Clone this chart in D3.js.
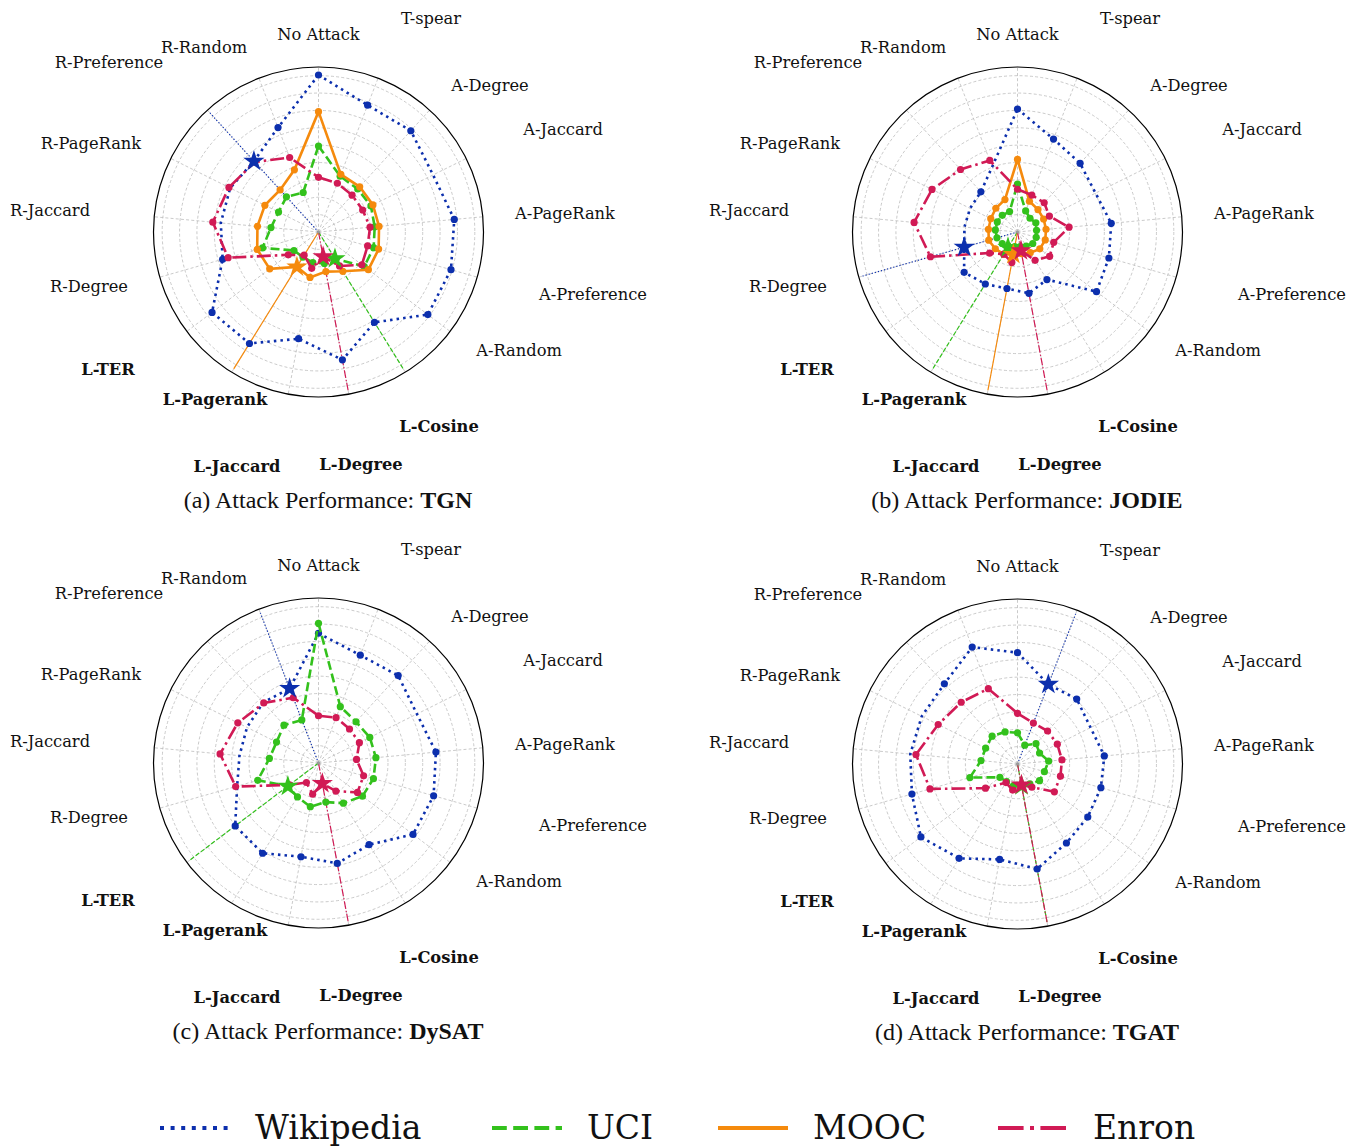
<!DOCTYPE html>
<html>
<head>
<meta charset="UTF-8" />
<title>Attack Performance radar charts</title>
<script src="https://d3js.org/d3.v7.min.js"></script>
<style>
  body { margin: 0; background: #fff; }
  text { font-family: "DejaVu Serif", serif; }
  .caption { font-family: "Liberation Serif", "Times New Roman", serif; }
</style>
</head>
<body>
<div id="chart"></div>
<script>
// spokes, clockwise from the top
var attacks = ["No Attack", "T-spear", "A-Degree", "A-Jaccard", "A-PageRank", "A-Preference", "A-Random",
  "L-Cosine", "L-Degree", "L-Jaccard", "L-Pagerank", "L-TER",
  "R-Degree", "R-Jaccard", "R-PageRank", "R-Preference", "R-Random"];
var datasets = ["Wikipedia", "UCI", "MOOC", "Enron"];
var models = ["TGN", "JODIE", "DySAT", "TGAT"];
var letters = ["(a)", "(b)", "(c)", "(d)"];

// values per attack (17), one array per dataset and model
var tgnWiki  = [0.904, 0.783, 0.789, 0.737, 0.785, 0.793, 0.789, 0.612, 0.749, 0.625, 0.755, 0.768, 0.574, 0.565, 0.568, 0.552, 0.645];
var tgnUci   = [0.495, 0.345, 0.335, 0.337, 0.325, 0.330, 0.330, 0.180, 0.184, 0.179, 0.170, 0.177, 0.335, 0.275, 0.257, 0.274, 0.244];
var tgnMooc  = [0.693, 0.356, 0.352, 0.350, 0.350, 0.360, 0.360, 0.266, 0.232, 0.266, 0.236, 0.352, 0.367, 0.353, 0.345, 0.328, 0.384];
var tgnEnron = [0.315, 0.301, 0.287, 0.284, 0.298, 0.294, 0.313, 0.230, 0.144, 0.213, 0.157, 0.218, 0.541, 0.611, 0.576, 0.545, 0.460];

var jodieWiki  = [0.708, 0.574, 0.535, 0.502, 0.542, 0.547, 0.570, 0.322, 0.359, 0.331, 0.352, 0.385, 0.319, 0.307, 0.305, 0.313, 0.403];
var jodieUci   = [0.276, 0.130, 0.107, 0.118, 0.110, 0.112, 0.110, 0.095, 0.085, 0.085, 0.104, 0.110, 0.123, 0.128, 0.130, 0.130, 0.126];
var jodieMooc  = [0.418, 0.190, 0.175, 0.168, 0.165, 0.166, 0.161, 0.140, 0.127, 0.131, 0.150, 0.160, 0.172, 0.168, 0.172, 0.185, 0.200];
var jodieEnron = [0.246, 0.228, 0.228, 0.205, 0.298, 0.217, 0.232, 0.192, 0.109, 0.178, 0.150, 0.201, 0.521, 0.598, 0.550, 0.487, 0.442];

var dysatWiki  = [0.747, 0.666, 0.681, 0.633, 0.679, 0.689, 0.682, 0.553, 0.588, 0.549, 0.611, 0.601, 0.487, 0.457, 0.460, 0.472, 0.460];
var dysatUci   = [0.804, 0.348, 0.321, 0.330, 0.332, 0.329, 0.317, 0.272, 0.229, 0.256, 0.230, 0.221, 0.364, 0.284, 0.270, 0.295, 0.266];
var dysatEnron = [0.272, 0.280, 0.265, 0.263, 0.220, 0.270, 0.281, 0.190, 0.120, 0.183, 0.132, 0.209, 0.496, 0.569, 0.519, 0.468, 0.403];

var tgatWiki  = [0.641, 0.492, 0.506, 0.470, 0.502, 0.499, 0.507, 0.535, 0.615, 0.559, 0.639, 0.697, 0.632, 0.620, 0.616, 0.625, 0.722];
var tgatUci   = [0.180, 0.116, 0.158, 0.142, 0.180, 0.161, 0.159, 0.135, 0.127, 0.130, 0.120, 0.127, 0.285, 0.211, 0.205, 0.217, 0.198];
var tgatEnron = [0.292, 0.253, 0.257, 0.256, 0.257, 0.257, 0.266, 0.157, 0.123, 0.153, 0.126, 0.231, 0.524, 0.587, 0.510, 0.481, 0.465];

// index of the starred (strongest) attack for each dataset, null = not plotted
var tgnBest   = [15, 7, 10, 8];
var jodieBest = [12, 10, 9, 8];
var dysatBest = [16, 11, null, 8];
var tgatBest  = [1, 8, null, 8];

// attacks with no marker on the Wikipedia line
var wikiUnmarked = [[3, 13, 14], [3, 13, 14, 16], [3, 12, 13, 14, 15], [3, 13, 14]];

var radialTicks = [0.1, 0.2, 0.3, 0.4, 0.5, 0.6, 0.7, 0.8, 0.9];

var panelData = [
  [tgnWiki, tgnUci, tgnMooc, tgnEnron],
  [jodieWiki, jodieUci, jodieMooc, jodieEnron],
  [dysatWiki, dysatUci, null, dysatEnron],
  [tgatWiki, tgatUci, null, tgatEnron]
];
var panelBest = [tgnBest, jodieBest, dysatBest, tgatBest];

// layout
var W = 1359, H = 1146, R = 165;
var centers = [[318.5, 232], [1017.5, 232], [318.5, 763], [1017.5, 764]];
var labelOffsets = [[0, -198], [112.5, -214], [171.5, -147], [244.5, -103], [246.5, -19], [274.5, 62], [200.5, 118],
  [120.5, 194], [42.5, 232], [-81.5, 234], [-103.5, 167], [-210.5, 137],
  [-229.5, 54], [-268.5, -22], [-227.5, -89], [-209.5, -170], [-114.5, -185]];

var styles = [
  {color: "#0c2fad", dash: "2.5,4.1", thin: "1.2,2"},
  {color: "#33c11c", dash: "9,4", thin: "4.5,2"},
  {color: "#f58a0d", dash: null, thin: null},
  {color: "#d11a55", dash: "14,4,2.5,4", thin: "7.5,2,1.3,2"}
];

var svg = d3.select("#chart").append("svg")
  .attr("width", W).attr("height", H);

var r = d3.scaleLinear().domain([0, 0.95]).range([0, R]);
var angle = d3.scaleLinear().domain([0, attacks.length]).range([0, 2 * Math.PI]);

function point(i, v) {
  var a = angle(i);
  return [r(v) * Math.sin(a), -r(v) * Math.cos(a)];
}

panelData.forEach(function(series, p) {
  var g = svg.append("g")
    .attr("transform", "translate(" + centers[p][0] + "," + centers[p][1] + ")");

  // rings
  g.selectAll("circle.ring").data(radialTicks).enter().append("circle")
    .attr("class", "ring")
    .attr("r", function(d) { return r(d); })
    .attr("fill", "none")
    .attr("stroke", "#bdbdbd")
    .attr("stroke-width", 0.8)
    .attr("stroke-dasharray", "3,2.2");

  // spokes
  g.selectAll("line.spoke").data(attacks).enter().append("line")
    .attr("class", "spoke")
    .attr("x1", 0).attr("y1", 0)
    .attr("x2", function(d, i) { return R * Math.sin(angle(i)); })
    .attr("y2", function(d, i) { return -R * Math.cos(angle(i)); })
    .attr("stroke", "#bdbdbd")
    .attr("stroke-width", 0.8)
    .attr("stroke-dasharray", "3,2.2");

  g.append("circle").attr("r", R).attr("fill", "none")
    .attr("stroke", "#000").attr("stroke-width", 1.2);

  // spoke labels
  g.selectAll("text.lab").data(attacks).enter().append("text")
    .attr("class", "lab")
    .attr("x", function(d, i) { return labelOffsets[i][0]; })
    .attr("y", function(d, i) { return labelOffsets[i][1]; })
    .attr("text-anchor", "middle")
    .attr("dominant-baseline", "central")
    .attr("font-size", 16.3)
    .attr("font-weight", function(d) { return d.indexOf("L-") === 0 ? "bold" : "normal"; })
    .attr("fill", "#111")
    .text(function(d) { return d; });

  var best = panelBest[p];

  // highlight spokes through the star
  series.forEach(function(vals, s) {
    if (!vals || best[s] == null) return;
    var a = angle(best[s]);
    g.append("line")
      .attr("x1", 0).attr("y1", 0)
      .attr("x2", (R - 4) * Math.sin(a)).attr("y2", -(R - 4) * Math.cos(a))
      .attr("stroke", styles[s].color)
      .attr("stroke-width", 1.2)
      .attr("stroke-dasharray", styles[s].thin);
  });

  var line = d3.lineRadial()
    .angle(function(d) { return angle(d.i); })
    .radius(function(d) { return r(d.v); })
    .curve(d3.curveLinearClosed);

  series.forEach(function(vals, s) {
    if (!vals) return;
    var pts = vals.map(function(v, i) { return {i: i, v: v}; });
    g.append("path")
      .attr("d", line(pts))
      .attr("fill", "none")
      .attr("stroke", styles[s].color)
      .attr("stroke-width", 2.6)
      .attr("stroke-dasharray", styles[s].dash);

    var skip = s === 0 ? wikiUnmarked[p] : [];
    g.selectAll(null)
      .data(pts.filter(function(d) { return d.i !== best[s] && skip.indexOf(d.i) < 0; }))
      .enter().append("circle")
      .attr("cx", function(d) { return point(d.i, d.v)[0]; })
      .attr("cy", function(d) { return point(d.i, d.v)[1]; })
      .attr("r", 3.6)
      .attr("fill", styles[s].color);
  });

  // stars
  series.forEach(function(vals, s) {
    if (!vals || best[s] == null) return;
    var xy = point(best[s], vals[best[s]]);
    g.append("path")
      .attr("d", d3.symbol().type(d3.symbolStar).size(140)())
      .attr("transform", "translate(" + xy[0] + "," + xy[1] + ")")
      .attr("fill", styles[s].color);
  });

  g.append("circle").attr("r", 1.5).attr("fill", "#999");

  // caption
  var cap = svg.append("text")
    .attr("class", "caption")
    .attr("x", centers[p][0] + 9.5)
    .attr("y", centers[p][1] + 276)
    .attr("text-anchor", "middle")
    .attr("font-size", 24)
    .attr("fill", "#111");
  cap.append("tspan").text(letters[p] + " Attack Performance: ");
  cap.append("tspan").attr("font-weight", "bold").text(models[p]);
});

// legend
var legendX = [160, 492, 718, 998];
var legend = svg.append("g").attr("transform", "translate(0,1128)");
datasets.forEach(function(name, s) {
  legend.append("line")
    .attr("x1", legendX[s]).attr("x2", legendX[s] + 70)
    .attr("y1", 0).attr("y2", 0)
    .attr("stroke", styles[s].color)
    .attr("stroke-width", 4)
    .attr("stroke-dasharray", s === 0 ? "4,6.6" : s === 1 ? "14.8,6.4" : s === 3 ? "25.6,6.4,4,6.4" : null);
  legend.append("text")
    .attr("x", legendX[s] + 95)
    .attr("y", 11)
    .attr("font-size", 33)
    .attr("fill", "#111")
    .text(name);
});
</script>
</body>
</html>
